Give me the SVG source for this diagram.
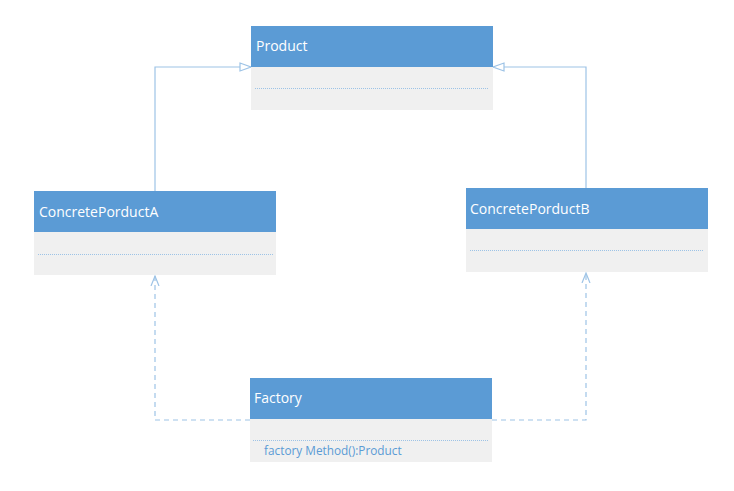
<svg xmlns="http://www.w3.org/2000/svg" width="734" height="491" viewBox="0 0 734 491">
<style>
.hd{fill:#5b9bd5}
.bd{fill:#f0f0f0}
.sep{stroke:#9dc3e6;stroke-width:1;stroke-dasharray:1 1}
.t{font-family:"Open Sans","Liberation Sans",sans-serif;font-size:14px;fill:#ffffff}
.m{font-family:"Open Sans","Liberation Sans",sans-serif;font-size:11.8px;fill:#5b9bd5}
.c{fill:none;stroke:#9dc3e6;stroke-width:1.2}
.d{stroke-dasharray:5 4}
</style>
<defs>
<marker id="tri" markerWidth="14" markerHeight="10" refX="12" refY="5" orient="auto" markerUnits="userSpaceOnUse">
<path d="M1,1 L12,5 L1,9 Z" fill="#ffffff" stroke="#9dc3e6" stroke-width="1.2"/>
</marker>
<marker id="open" markerWidth="12" markerHeight="14" refX="10" refY="6" orient="auto" markerUnits="userSpaceOnUse">
<path d="M0,2 L10,6 L0,10" fill="none" stroke="#9dc3e6" stroke-width="1.2"/>
</marker>
</defs>
<rect width="734" height="491" fill="#ffffff"/>
<g id="connectors">
<path class="c" d="M155,191 V67 H251" marker-end="url(#tri)"/>
<path class="c" d="M586,188 V67 H493" marker-end="url(#tri)"/>
<path class="c d" d="M250,420 H155 V276" marker-end="url(#open)"/>
<path class="c d" d="M492,420 H586 V273" marker-end="url(#open)"/>
</g>
<g id="product">
<rect class="bd" x="251" y="67" width="242" height="43"/>
<rect class="hd" x="251" y="26" width="242" height="41"/>
<line class="sep" x1="255" y1="88.5" x2="489" y2="88.5"/>
<text class="t" x="256" y="51">Product</text>
</g>
<g id="concreteA">
<rect class="bd" x="34" y="232" width="242" height="43"/>
<rect class="hd" x="34" y="191" width="242" height="41"/>
<line class="sep" x1="38" y1="254.5" x2="274" y2="254.5"/>
<text class="t" x="39" y="217">ConcretePorductA</text>
</g>
<g id="concreteB">
<rect class="bd" x="466" y="229" width="242" height="43"/>
<rect class="hd" x="466" y="188" width="242" height="41"/>
<line class="sep" x1="470" y1="250.5" x2="704" y2="250.5"/>
<text class="t" x="470" y="214">ConcretePorductB</text>
</g>
<g id="factory">
<rect class="bd" x="250" y="419" width="242" height="43"/>
<rect class="hd" x="250" y="378" width="242" height="41"/>
<line class="sep" x1="253" y1="440.5" x2="488" y2="440.5"/>
<text class="t" x="254" y="403">Factory</text>
<text class="m" x="264" y="455">factory Method():Product</text>
</g>
</svg>
